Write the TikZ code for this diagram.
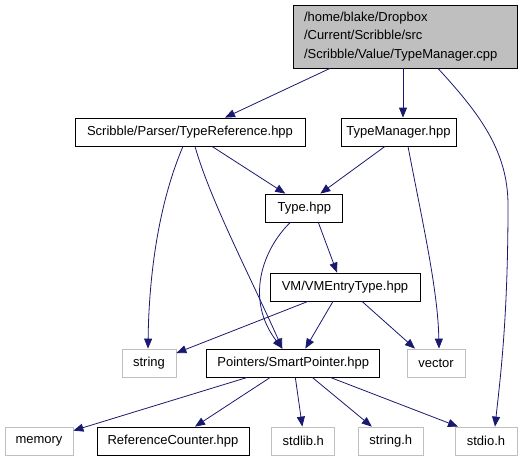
\documentclass[tikz,border=0pt]{standalone}
\usepackage{fontspec}
\setmainfont{Liberation Sans}
\usetikzlibrary{arrows.meta,calc}
\definecolor{edgeblue}{HTML}{191970}
\definecolor{lightbd}{HTML}{BFBFBF}
\begin{document}
\begin{tikzpicture}[x=1pt,y=-1pt,
  box/.style={draw=black,line width=0.8pt,inner sep=0pt,font=\fontsize{13}{15}\selectfont,minimum height=28pt},
  sysbox/.style={draw=lightbd,line width=0.8pt,inner sep=0pt,font=\fontsize{13}{15}\selectfont,minimum height=28pt},
  edge/.style={draw=edgeblue,line width=0.8pt,-{Triangle[length=10pt,width=8pt]}}]
\useasboundingbox (0,0) rectangle (527,461);
\node[box,fill=lightbd,minimum width=224pt,minimum height=63pt,text width=202pt,align=left,font=\fontsize{13}{18.5}\selectfont] (top) at (405,36.5)
  {/home/blake/Dropbox\\/Current/Scribble/src\\/Scribble/Value/TypeManager.cpp};
\node[box,minimum width=230pt] (tr) at (190,132) {Scribble/Parser/TypeReference.hpp};
\node[box,minimum width=115pt] (tm) at (398.5,132) {TypeManager.hpp};
\node[box,minimum width=77pt] (type) at (304.3,208) {Type.hpp};
\node[box,minimum width=150pt] (vm) at (345,287) {VM/VMEntryType.hpp};
\node[sysbox,minimum width=54pt] (string) at (149,363) {string};
\node[box,minimum width=173pt] (sp) at (293.3,363) {Pointers/SmartPointer.hpp};
\node[sysbox,minimum width=58pt] (vector) at (436,363) {vector};
\node[sysbox,minimum width=68pt] (memory) at (39,441) {memory};
\node[box,minimum width=152pt] (rc) at (173,441) {ReferenceCounter.hpp};
\node[sysbox,minimum width=63pt] (stdlib) at (303.3,441) {stdlib.h};
\node[sysbox,minimum width=65pt] (strh) at (390.8,441) {string.h};
\node[sysbox,minimum width=62pt] (stdio) at (486,441) {stdio.h};
% edges
\draw[edge] ($(top.south)+(-75,0)$) -- ($(tr.north)+(35,0)$);
\draw[edge] ($(top.south)+(-2,0)$) -- ($(tm.north)+(4.5,0)$);
\draw[edge] ($(top.south)+(33,0)$) .. controls (478,112) and (508,150) .. (508,205)
   .. controls (508,320) and (500,380) .. ($(stdio.north)+(9,0)$);
\draw[edge] ($(tr.south)+(-7,0)$) .. controls (160,200) and (149,270) .. ($(string.north)+(-1,0)$);
\draw[edge] ($(tr.south)+(5,0)$) .. controls (210,200) and (252,280) .. ($(sp.north)+(-11,0)$);
\draw[edge] ($(tr.south)+(22,0)$) -- ($(type.north)+(-19,0)$);
\draw[edge] ($(tm.south)+(-13.5,0)$) -- ($(type.north)+(16,0)$);
\draw[edge] ($(tm.south)+(9.5,0)$) .. controls (422,220) and (438,290) .. ($(vector.north)+(3,0)$);
\draw[edge] ($(type.south)+(-14,0)$) .. controls (262,250) and (245,300) .. ($(sp.north)+(-11,0)$);
\draw[edge] ($(type.south)+(14,0)$) -- ($(vm.north)+(-8,0)$);
\draw[edge] ($(vm.south)+(-37,0)$) -- ($(string.east)+(0,-10)$);
\draw[edge] ($(vm.south)+(-12,0)$) -- ($(sp.north)+(12,0)$);
\draw[edge] ($(vm.south)+(17,0)$) -- ($(vector.north)+(-21,0)$);
\draw[edge] ($(sp.south)+(-46,0)$) -- ($(memory.north east)+(0,4)$);
\draw[edge] ($(sp.south)+(-23,0)$) -- ($(rc.north)+(22,0)$);
\draw[edge] ($(sp.south)+(2,0)$) -- ($(stdlib.north)+(-1,0)$);
\draw[edge] ($(sp.south)+(19,0)$) -- ($(strh.north)+(-19,0)$);
\draw[edge] ($(sp.south)+(37,0)$) -- ($(stdio.north)+(-28,0)$);
\end{tikzpicture}
\end{document}
